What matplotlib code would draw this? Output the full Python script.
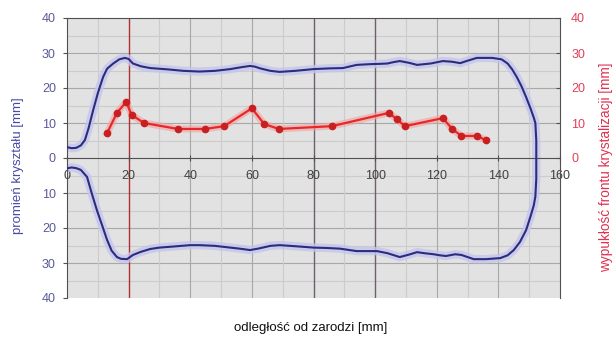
import matplotlib
matplotlib.use("Agg")
import matplotlib.pyplot as plt
import numpy as np

plt.rcParams['font.family'] = ['Liberation Sans', 'DejaVu Sans']

# Crystal contour (radius): top edge then bottom edge (bottom stored as negative)
top_x = [0, 1.5, 3, 4.5, 5.8, 7, 8.5, 10, 11.7, 13, 15, 17, 18.8, 20, 21.4, 24, 27, 33,
         37.7, 43, 48, 53, 57, 59.4, 61, 62.7, 66, 69, 74, 80, 85, 89.6, 92, 94, 98,
         101.6, 104, 106, 108, 111, 113.6, 118, 122, 125, 127.6, 130, 133, 138, 141,
         143, 144.5, 146, 147.5, 149, 150.5, 151.5, 152, 152.3, 152.3]
top_y = [3.1, 2.8, 2.9, 3.6, 5.1, 8.5, 13.7, 18.5, 23.1, 25.5, 27, 28.2, 28.6, 28.3, 27,
         26.2, 25.7, 25.3, 24.9, 24.7, 24.9, 25.4, 26.0, 26.3, 26.1, 25.6, 24.9, 24.6,
         24.9, 25.4, 25.6, 25.7, 26.2, 26.6, 26.8, 26.9, 27.0, 27.4, 27.7, 27.2, 26.6,
         27.0, 27.7, 27.5, 27.1, 27.8, 28.6, 28.6, 28.2, 27, 25.3, 23.1, 20.5, 17.4, 14,
         11.5, 10, 5, 0]
bot_x = [152.3, 152.3, 152, 151.5, 150.5, 149, 147, 145, 143, 140.6, 136, 132, 130, 128,
         126, 123, 121, 119, 116, 113.6, 111, 108, 104, 100.6, 97, 94, 88.6, 84, 80, 74,
         69, 66, 64, 62, 59.4, 56, 53, 48, 43, 40, 34.4, 30, 27, 24, 21.4, 19.5, 17.5,
         16.2, 14.5, 13, 11.5, 9.7, 8, 6.5, 4.5, 3, 1.5, 0.3]
bot_y = [0, -6, -11, -13.5, -16.5, -20.6, -24, -26.3, -27.8, -28.6, -28.9, -28.9, -28.3,
         -27.7, -27.5, -28, -27.8, -27.5, -27.2, -26.9, -27.6, -28.3, -27.2, -26.6, -26.6,
         -26.6, -25.9, -25.7, -25.6, -25.2, -24.9, -25.1, -25.5, -25.9, -26.3, -25.9,
         -25.6, -25.1, -24.9, -24.9, -25.3, -25.6, -26, -26.8, -27.7, -28.9, -28.8,
         -28.3, -26.5, -23.4, -19.5, -14.9, -10, -5.4, -3.4, -2.9, -2.7, -2.9]

# Crystallisation front convexity
front_x = [13, 16.2, 19.2, 21, 25, 36, 44.8, 51, 60, 64, 68.8, 86, 104.5, 107, 109.7,
           122, 125, 128, 133, 136]
front_y = [7.1, 12.9, 16.0, 12.3, 10.0, 8.3, 8.3, 9.1, 14.2, 9.7, 8.3, 9.1, 12.9, 11.1,
           9.1, 11.4, 8.3, 6.3, 6.3, 5.1]

x_ticks = [0, 20, 40, 60, 80, 100, 120, 140, 160]
y_ticks = [-40, -30, -20, -10, 0, 10, 20, 30, 40]
r_ticks = [0, 10, 20, 30, 40]

fig = plt.figure(figsize=(6.16, 3.38), dpi=100)
ax = fig.add_axes([67/616, 1-298/338, (560-67)/616, (298-18)/338])
ax.set_facecolor('#e2e2e2')
ax.set_xlim(0, 160)
ax.set_ylim(-40, 40)

# grid
for v in np.arange(5, 40, 5):
    for s in (1, -1):
        ax.axhline(s*v, color='#a8a8a8' if v % 10 == 0 else '#cccccc', lw=0.8, zorder=0)
for v in range(10, 160, 10):
    if v in (80, 100):
        ax.axvline(v, color='#6e5e6e', lw=1.0, zorder=1)
    elif v == 20:
        ax.axvline(v, color='#b03030', lw=1.0, zorder=1)
    else:
        ax.axvline(v, color='#a8a8a8' if v % 20 == 0 else '#cccccc', lw=0.8, zorder=0)

# contour
cx = top_x + bot_x
cy = top_y + bot_y
ax.plot(cx, cy, color='#c4c4ee', lw=6, alpha=0.8, zorder=2, solid_capstyle='round',
        solid_joinstyle='round')
ax.plot(cx, cy, color='#2c2c7c', lw=1.5, zorder=3, solid_joinstyle='round')

# front
ax.plot(front_x, front_y, color='#f4a0a0', lw=5, alpha=0.6, zorder=3)
ax.plot(front_x, front_y, color='#e82828', lw=1.6, marker='o', ms=4.5,
        mfc='#c82020', mec='#c82020', zorder=4)

for s in ['left', 'right', 'top', 'bottom']:
    ax.spines[s].set_color('#505050')
ax.spines['bottom'].set_position(('data', 0))

ax.set_xticks(x_ticks)
ax.set_xticklabels([str(v) for v in x_ticks], fontsize=9, color='#404040')
ax.tick_params(axis='x', direction='inout', length=5, pad=6, color='#505050')
ax.set_yticks(y_ticks)
ax.set_yticklabels([str(abs(v)) for v in y_ticks], fontsize=9, color='#5a5a9a')
ax.tick_params(axis='y', direction='out', length=3, color='#505050', pad=5)

ax2 = ax.twinx()
ax2.set_ylim(-40, 40)
ax2.set_yticks(r_ticks)
ax2.set_yticklabels([str(v) for v in r_ticks], fontsize=9, color='#e0405a')
ax2.tick_params(axis='y', direction='in', length=3, color='#505050', pad=8)
for s in ['left', 'right', 'top', 'bottom']:
    ax2.spines[s].set_visible(False)

fig.text(0.029, 0.51, 'promień kryształu [mm]', rotation=90, ha='center', va='center',
         fontsize=9.5, color='#4a4aa6')
fig.text(0.984, 0.505, 'wypukłość frontu krystalizacji [mm]', rotation=90, ha='center',
         va='center', fontsize=9.8, color='#e03050')
fig.text(0.505, 0.03, 'odległość od zarodzi [mm]', ha='center', va='center',
         fontsize=9.5, color='#111111')

fig.savefig('out.png', dpi=100, facecolor='white')
